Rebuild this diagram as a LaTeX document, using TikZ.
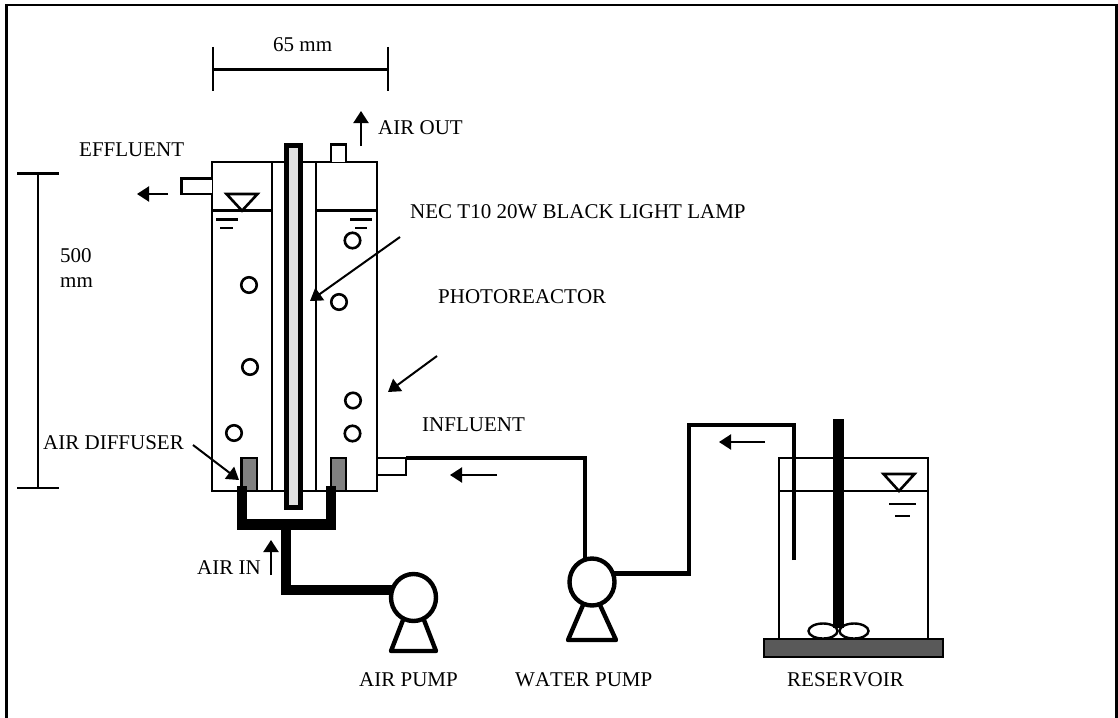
\documentclass[tikz,border=0pt]{standalone}
\usepackage{fontspec}
\setmainfont[Kerning=Off]{Liberation Serif}
\usetikzlibrary{arrows.meta,shapes.geometric}
\tikzset{
  thinline/.style={draw=black,line width=2pt},
  midline/.style={draw=black,line width=2.6pt},
  pipe/.style={draw=black,line width=4.6pt,miter limit=10},
  airpipe/.style={draw=black,line width=10.5pt},
  flow/.style={draw=black,line width=2pt,-{Triangle[length=12pt,width=15pt]}},
  lbl/.style={anchor=base west,inner sep=0pt,font=\fontsize{21pt}{22pt}\selectfont,text=black},
  pumpbody/.style={ellipse,draw=black,line width=4.4pt,fill=white,minimum width=45pt,minimum height=47pt,inner sep=0pt},
  bubble/.style={circle,draw=black,line width=2.6pt,minimum size=15.5pt,inner sep=0pt},
  paddle/.style={ellipse,draw=black,line width=2.4pt,minimum width=29pt,minimum height=15pt,inner sep=0pt},
  levelmark/.style={draw=black,line width=2.6pt}
}
\begin{document}
\begin{tikzpicture}[x=1pt,y=-1pt]
\useasboundingbox (0,0) rectangle (1118,717);
\fill[white] (0,0) rectangle (1118,717);
% frame
\draw[line width=2.5pt,miter limit=10] (6.5,718) -- (6.5,5) -- (1116.5,5) -- (1116.5,718);
% dimensions
\coordinate (dimAl) at (213,69.5); \coordinate (dimAr) at (388,69.5);
\draw[midline] (dimAl) -- (dimAr);
\draw[midline] (213,47) -- (213,91);
\draw[midline] (388,47) -- (388,91);
\node[lbl] (t65) at (273,52) {65 mm};
\coordinate (dimBt) at (38,173.5); \coordinate (dimBb) at (38,488);
\draw[midline] (dimBt) -- (dimBb);
\draw[midline] (17,173.5) -- (58.5,173.5);
\draw[midline] (17,488) -- (58.5,488);
\node[lbl] (t500) at (60,262) {500};
\node[lbl] (tmm) at (60,287) {mm};
% reactor
\draw[thinline] (212,161.5) rectangle (376.5,491);
\draw[thinline] (271.7,161.5) -- (271.7,491);
\draw[thinline] (315.7,161.5) -- (315.7,491);
\draw[midline] (211,210.7) -- (272.5,210.7);
\draw[midline] (315,210.7) -- (376.5,210.7);
\draw[midline,line join=miter,fill=white] (226.5,194) -- (257.5,194) -- (242,210.7) -- cycle;
\draw[levelmark] (216,219.5) -- (238,219.5);
\draw[levelmark] (220,228) -- (233,228);
\draw[levelmark] (350,219.5) -- (372,219.5);
\draw[levelmark] (355,228) -- (367,228);
% tubes
\draw[midline,fill=white] (212,178.5) -- (181.5,178.5) -- (181.5,194) -- (212,194);
\draw[midline,fill=white] (331,161.5) -- (331,144.5) -- (346,144.5) -- (346,161.5);
\draw[midline] (376.5,458) -- (406,458);
\draw[thinline] (376.5,474.5) -- (406,474.5) -- (406,458);
% lamp
\draw[draw=black,line width=5pt,fill=black!12,miter limit=10] (286.5,145.5) rectangle (300.5,507.5);
% bubbles
\foreach \n/\px/\py in {a/352.5/240.5,b/249/285,c/339/302,d/250/367,e/353/400.5,f/352.5/433.5,g/234/433}
  \node[bubble] (bub\n) at (\px,\py) {};
% diffusers
\fill[black!50,draw=black,line width=2.6pt] (241.5,458) rectangle (257,491);
\fill[black!50,draw=black,line width=2.6pt] (331,458) rectangle (346,491);
% air pipes
\coordinate (dl) at (242,486); \coordinate (dr) at (331,486); \coordinate (tee) at (286,524.5); \coordinate (kn) at (286,590);
\draw[airpipe] (dl) -- (242,524.5) -- (331,524.5) -- (dr);
\draw[airpipe] (tee) -- (kn) -- (400,590);
% air pump
\draw[draw=black,line width=4.4pt,line join=round,fill=white] (403,620) -- (391,651) -- (436,651) -- (424,620);
\node[pumpbody] (airpump) at (413.5,597.5) {};
% water pipes
\coordinate (resdrop) at (794,560);
\draw[pipe] (406,458) -- (585,458) -- (585,565);
\draw[pipe] (resdrop) -- (794,425) -- (689,425) -- (689,573.5) -- (605,573.5);
% water pump
\draw[draw=black,line width=4.4pt,line join=round,fill=white] (583,605) -- (568,640) -- (616,640) -- (600,605);
\node[pumpbody] (waterpump) at (592,582) {};
% reservoir
\draw[thinline] (779,639) -- (779,458) -- (928,458) -- (928,639);
\draw[thinline] (779,491) -- (928,491);
\draw[midline,line join=miter,fill=white] (883.5,474) -- (914.5,474) -- (899,491) -- cycle;
\draw[levelmark] (889,504) -- (916,504);
\draw[levelmark] (895,516) -- (910,516);
\fill[black] (833,419) rectangle (844,628);
\node[paddle] (padl) at (823,631) {};
\node[paddle] (padr) at (854,631) {};
\fill[black!65,draw=black,line width=2.6pt] (764,639) rectangle (943,657);
% arrows
\coordinate (a1s) at (168,194); \coordinate (a1e) at (137,194);
\draw[flow] (a1s) -- (a1e);
\coordinate (a2s) at (361,146); \coordinate (a2e) at (361,111);
\draw[flow] (a2s) -- (a2e);
\coordinate (a3s) at (271,575); \coordinate (a3e) at (271,540);
\draw[flow] (a3s) -- (a3e);
\coordinate (a4s) at (193,445); \coordinate (a4e) at (239,480);
\draw[flow] (a4s) -- (a4e);
\coordinate (a5s) at (400,237); \coordinate (a5e) at (310,301);
\draw[flow] (a5s) -- (a5e);
\coordinate (a6s) at (437,356); \coordinate (a6e) at (388,392);
\draw[flow] (a6s) -- (a6e);
\coordinate (a7s) at (497,475); \coordinate (a7e) at (450,475);
\draw[flow] (a7s) -- (a7e);
\coordinate (a8s) at (765,442); \coordinate (a8e) at (719,442);
\draw[flow] (a8s) -- (a8e);
% labels
\node[lbl] (teff) at (79,156) {EFFLUENT};
\node[lbl] (tout) at (378,134) {AIR OUT};
\node[lbl] (tnec) at (410,218) {NEC T10 20W BLACK LIGHT LAMP};
\node[lbl] (tpho) at (438,303) {PHOTOREACTOR};
\node[lbl] (tinf) at (422,431) {INFLUENT};
\node[lbl] (tdif) at (43,449) {AIR DIFFUSER};
\node[lbl] (tin) at (197,574) {AIR IN};
\node[lbl] (tap) at (359,686) {AIR PUMP};
\node[lbl] (twp) at (515,686) {WATER PUMP};
\node[lbl] (tres) at (787,686) {RESERVOIR};
\end{tikzpicture}
\end{document}
